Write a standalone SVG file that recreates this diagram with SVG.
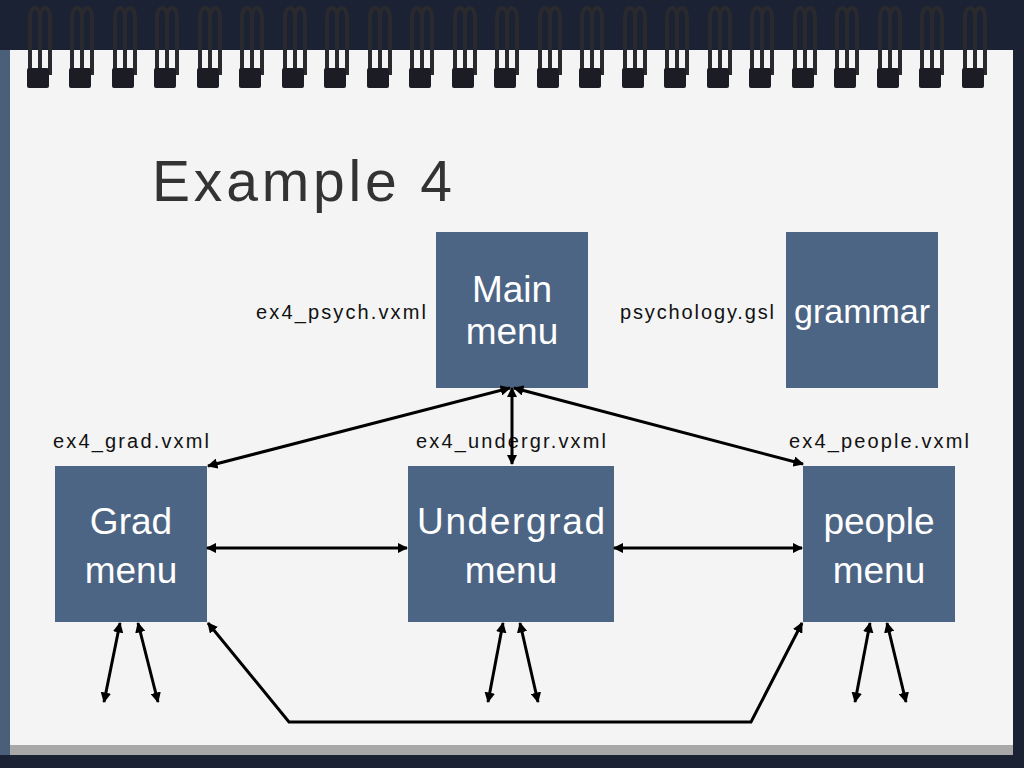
<svg xmlns="http://www.w3.org/2000/svg" width="1024" height="768" viewBox="0 0 1024 768">
<defs>
<style>
.n{fill:#4d6584}
.t{font-family:"Liberation Sans",Arial,sans-serif;fill:#fff;font-size:37px;text-anchor:middle}
.l{font-family:"Liberation Sans",Arial,sans-serif;fill:#111;font-size:20px;text-anchor:middle}
.c{stroke:#000;stroke-width:3;fill:none}
.a{marker-start:url(#h);marker-end:url(#h)}
.ring{fill:none;stroke:#2a2a2e;stroke-width:4}
</style>
<marker id="h" viewBox="0 0 10 10" refX="9" refY="5" markerWidth="3.5" markerHeight="3.5" orient="auto-start-reverse"><path d="M0,0L10,5L0,10z" fill="#000"/></marker>
<g id="spiral">
<path class="ring" d="M-8,75 L-8,20 Q-8,8 -3,8 Q2,8 2,20 L2,75"/>
<path class="ring" d="M2,75 L2,20 Q2,8 7,8 Q12,8 12,20 L12,75"/>
<rect x="-11" y="68" width="22" height="20" rx="2" fill="#1c1c24"/>
</g>
</defs>
<rect width="1024" height="768" fill="#1a2233"/>
<rect x="0" y="50" width="14" height="705" fill="#4a5f7a"/>
<rect x="10" y="50" width="1003" height="695" fill="#f4f4f4"/>
<rect x="10" y="745" width="1003" height="10" fill="#a8a8a8"/>
<g id="binding">
<use href="#spiral" x="38"/><use href="#spiral" x="80"/><use href="#spiral" x="123"/><use href="#spiral" x="165"/><use href="#spiral" x="208"/><use href="#spiral" x="250"/><use href="#spiral" x="293"/><use href="#spiral" x="335"/><use href="#spiral" x="378"/><use href="#spiral" x="420"/><use href="#spiral" x="463"/><use href="#spiral" x="505"/><use href="#spiral" x="548"/><use href="#spiral" x="590"/><use href="#spiral" x="633"/><use href="#spiral" x="675"/><use href="#spiral" x="718"/><use href="#spiral" x="760"/><use href="#spiral" x="803"/><use href="#spiral" x="845"/><use href="#spiral" x="888"/><use href="#spiral" x="930"/><use href="#spiral" x="973"/>
</g>
<text x="152" y="201" font-family="Liberation Sans,Arial,sans-serif" font-size="57" fill="#333" textLength="300" lengthAdjust="spacing">Example 4</text>
<g id="main"><rect class="n" x="436" y="232" width="152" height="156"/><text class="t" x="512" y="302">Main</text><text class="t" x="512" y="344">menu</text></g>
<g id="grammar"><rect class="n" x="786" y="232" width="152" height="156"/><text class="t" x="862" y="323" style="font-size:34px">grammar</text></g>
<g id="grad"><rect class="n" x="55" y="466" width="152" height="156"/><text class="t" x="131" y="534">Grad</text><text class="t" x="131" y="583">menu</text></g>
<g id="undergrad"><rect class="n" x="408" y="466" width="206" height="156"/><text class="t" x="511" y="534" textLength="188" lengthAdjust="spacing">Undergrad</text><text class="t" x="511" y="583">menu</text></g>
<g id="people"><rect class="n" x="803" y="466" width="152" height="156"/><text class="t" x="879" y="534">people</text><text class="t" x="879" y="583">menu</text></g>
<g id="labels">
<text class="l" x="341" y="319" textLength="170" lengthAdjust="spacing">ex4_psych.vxml</text>
<text class="l" x="697" y="319" textLength="154" lengthAdjust="spacing">psychology.gsl</text>
<text class="l" x="131" y="448" textLength="156" lengthAdjust="spacing">ex4_grad.vxml</text>
<text class="l" x="511" y="448" textLength="190" lengthAdjust="spacing">ex4_undergr.vxml</text>
<text class="l" x="879" y="448" textLength="180" lengthAdjust="spacing">ex4_people.vxml</text>
</g>
<g id="connectors">
<line class="c a" x1="512" y1="388" x2="512" y2="464"/>
<line class="c a" x1="510" y1="388" x2="208" y2="466"/>
<line class="c a" x1="514" y1="388" x2="803" y2="464"/>
<line class="c a" x1="207" y1="548" x2="407" y2="548"/>
<line class="c a" x1="614" y1="548" x2="802" y2="548"/>
<line class="c a" x1="120" y1="623" x2="104" y2="702"/>
<line class="c a" x1="138" y1="623" x2="158" y2="702"/>
<line class="c a" x1="503" y1="623" x2="488" y2="702"/>
<line class="c a" x1="520" y1="623" x2="538" y2="702"/>
<line class="c a" x1="870" y1="623" x2="855" y2="702"/>
<line class="c a" x1="887" y1="623" x2="906" y2="702"/>
<path class="c" d="M208,623 L289,722 L751,722 L802,623" marker-start="url(#h)" marker-end="url(#h)"/>
</g>
</svg>
